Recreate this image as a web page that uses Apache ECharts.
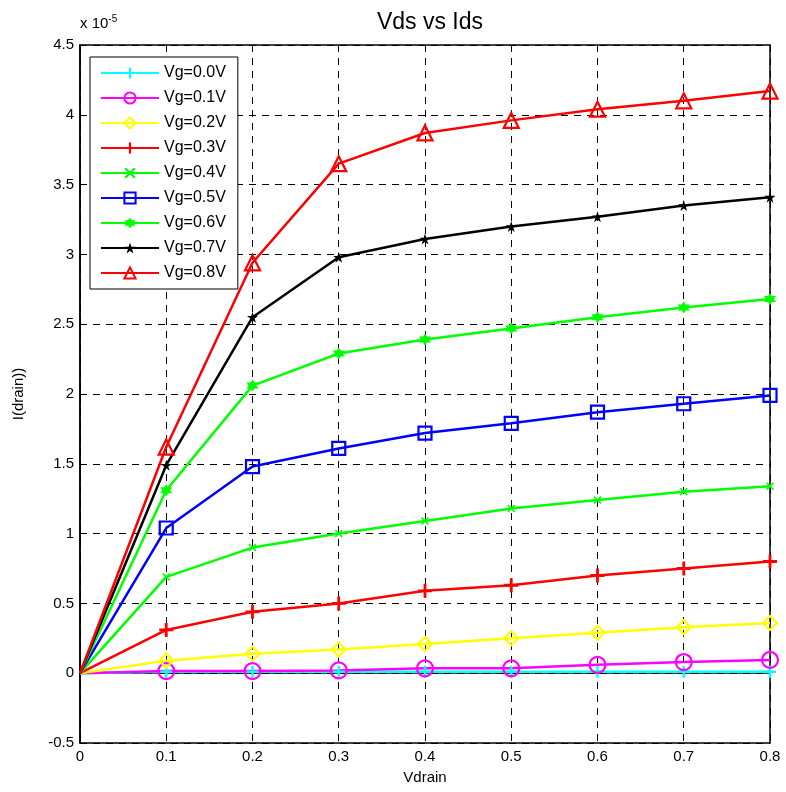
<!DOCTYPE html>
<html>
<head>
<meta charset="utf-8">
<script src="https://cdn.jsdelivr.net/npm/echarts@6/dist/echarts.min.js"></script>
<style>
html,body{margin:0;padding:0;background:#fff;}
#chart{width:786px;height:792px;}
</style>
</head>
<body>
<div id="chart"></div>
<script>
// x values (Vdrain)
var vdrain = [0, 0.1, 0.2, 0.3, 0.4, 0.5, 0.6, 0.7, 0.8];
// drain current, units of 1e-5
var vg00 = [0, 0.01, 0.01, 0.01, 0.01, 0.01, 0.01, 0.01, 0.01];
var vg01 = [0, 0.015, 0.015, 0.02, 0.035, 0.035, 0.06, 0.08, 0.095];
var vg02 = [0, 0.09, 0.14, 0.17, 0.21, 0.25, 0.29, 0.33, 0.36];
var vg03 = [0, 0.31, 0.44, 0.50, 0.59, 0.63, 0.70, 0.75, 0.80];
var vg04 = [0, 0.69, 0.90, 1.00, 1.09, 1.18, 1.24, 1.30, 1.34];
var vg05 = [0, 1.04, 1.48, 1.61, 1.72, 1.79, 1.87, 1.93, 1.99];
var vg06 = [0, 1.31, 2.06, 2.29, 2.39, 2.47, 2.55, 2.62, 2.68];
var vg07 = [0, 1.49, 2.55, 2.98, 3.11, 3.20, 3.27, 3.35, 3.41];
var vg08 = [0, 1.62, 2.94, 3.65, 3.87, 3.96, 4.04, 4.10, 4.17];
var names = ['Vg=0.0V', 'Vg=0.1V', 'Vg=0.2V', 'Vg=0.3V', 'Vg=0.4V', 'Vg=0.5V', 'Vg=0.6V', 'Vg=0.7V', 'Vg=0.8V'];
var allData = [vg00, vg01, vg02, vg03, vg04, vg05, vg06, vg07, vg08];

var colors = ['#00ffff', '#ff00ff', '#ffff00', '#ff0000', '#00ff00', '#0000ff', '#00ff00', '#000000', '#ff0000'];
var plusPath = 'path://M4,0 H6 V4 H10 V6 H6 V10 H4 V6 H0 V4 H4 Z';
var xPath = 'path://M0,1.4 L1.4,0 L5,3.6 L8.6,0 L10,1.4 L6.4,5 L10,8.6 L8.6,10 L5,6.4 L1.4,10 L0,8.6 L3.6,5 Z';
var hexPath = 'path://M5,0 L9.33,7.5 L0.67,7.5 Z M5,10 L0.67,2.5 L9.33,2.5 Z';
var starPath = 'path://M5,0 L7.939,9.045 L0.245,3.455 L9.755,3.455 L2.061,9.045 Z';
// marker type, size, hollow?
var marks = [
	[plusPath, 12, false],
	['circle', 16, true],
	['diamond', 14, true],
	[plusPath, 14, false],
	[xPath, 8, false],
	['rect', 13, true],
	[hexPath, 12, false],
	[starPath, 11, false],
	['triangle', 15, true]
];

var fontName = 'Liberation Sans';
var myChart = echarts.init(document.getElementById('chart'));

var seriesList = [];
for (var i = 0; i < allData.length; i++) {
	var pts = [];
	for (var j = 0; j < vdrain.length; j++) {
		if (j == 0) {
			// no marker at the origin
			pts.push({value: [vdrain[j], allData[i][j]], symbol: 'none'});
		} else {
			pts.push([vdrain[j], allData[i][j]]);
		}
	}
	var hollow = marks[i][2];
	seriesList.push({
		name: names[i],
		type: 'line',
		data: pts,
		symbol: marks[i][0],
		symbolSize: marks[i][1],
		showAllSymbol: true,
		showSymbol: true,
		animation: false,
		lineStyle: {color: colors[i], width: 2.5},
		itemStyle: hollow ? {
			color: 'rgba(0,0,0,0)',
			borderColor: colors[i],
			borderWidth: 2.2
		} : {
			color: colors[i],
			borderWidth: 0
		},
		emphasis: {disabled: true}
	});
}

var option = {
	backgroundColor: '#fff',
	title: {
		text: 'Vds vs Ids',
		left: 425,
		top: 6,
		textAlign: 'center',
		textStyle: {fontFamily: fontName, fontSize: 23, fontWeight: 'normal', color: '#000'}
	},
	legend: {
		orient: 'vertical',
		left: 90,
		top: 57,
		data: names,
		backgroundColor: '#fff',
		borderColor: '#000',
		borderWidth: 1,
		padding: [8, 12, 8, 10],
		itemWidth: 58,
		itemHeight: 14,
		itemGap: 9,
		textStyle: {fontFamily: fontName, fontSize: 16, color: '#000'}
	},
	grid: {
		left: 80,
		right: 16,
		top: 45,
		bottom: 49,
		show: true,
		borderColor: '#000',
		borderWidth: 1.5
	},
	xAxis: {
		type: 'value',
		min: 0,
		max: 0.8,
		interval: 0.1,
		name: 'Vdrain',
		nameLocation: 'middle',
		nameGap: 27,
		nameTextStyle: {fontFamily: fontName, fontSize: 15, color: '#000'},
		axisLine: {show: true, lineStyle: {color: '#000', width: 1.5}},
		axisTick: {show: true, inside: true, length: 6, lineStyle: {color: '#000'}},
		axisLabel: {fontFamily: fontName, fontSize: 15, color: '#000', margin: 6},
		splitLine: {show: true, lineStyle: {color: '#000', type: [7, 6], width: 1}}
	},
	yAxis: {
		type: 'value',
		min: -0.5,
		max: 4.5,
		interval: 0.5,
		name: 'I(drain))',
		nameLocation: 'middle',
		nameGap: 54,
		nameTextStyle: {fontFamily: fontName, fontSize: 15, color: '#000'},
		axisLine: {show: true, lineStyle: {color: '#000', width: 1.5}},
		axisTick: {show: true, inside: true, length: 6, lineStyle: {color: '#000'}},
		axisLabel: {fontFamily: fontName, fontSize: 15, color: '#000', margin: 6},
		splitLine: {show: true, lineStyle: {color: '#000', type: [7, 6], width: 1}}
	},
	graphic: [{
		type: 'text',
		left: 80,
		top: 14,
		style: {
			text: '{a|x 10}{b|-5}',
			rich: {
				a: {fontFamily: fontName, fontSize: 15, fill: '#000'},
				b: {fontFamily: fontName, fontSize: 10, fill: '#000', verticalAlign: 'top', padding: [0, 0, 10, 0]}
			}
		}
	}],
	series: seriesList
};

myChart.setOption(option);
</script>
</body>
</html>
